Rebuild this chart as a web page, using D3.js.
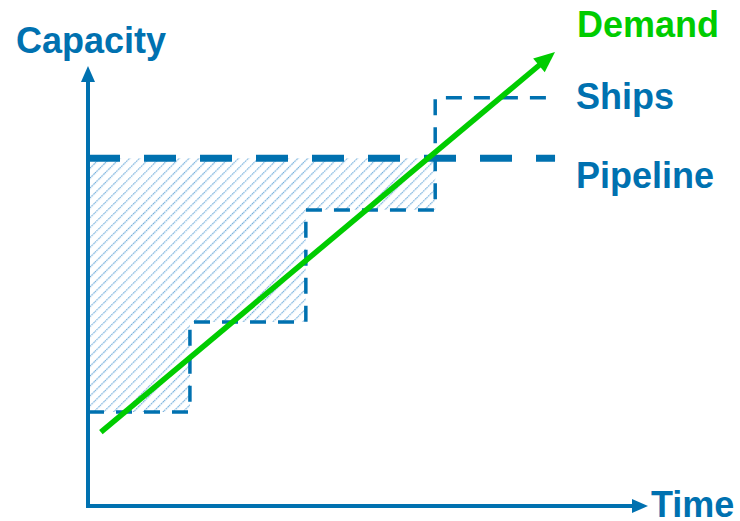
<!DOCTYPE html>
<html>
<head>
<meta charset="utf-8">
<script src="https://cdn.jsdelivr.net/npm/d3@7"></script>
<style>
  html, body { margin: 0; padding: 0; background: #fff; }
  svg { display: block; }
  text { font-family: "Liberation Sans", Arial, sans-serif; font-weight: bold; }
</style>
</head>
<body>
<svg id="chart" width="740" height="521"></svg>
<script>
// ---- data (abstract units) ----
const shipsSteps = [ // [start time, capacity level]
  [0.0, 2.09],
  [1.82, 4.09],
  [3.89, 6.58],
  [6.20, 9.07]
];
const shipsEnd = 8.34;
const pipelineLevel = 7.73;
const pipelineEnd = 8.34;
const demandPoints = [[0.23, 1.64], [8.34, 10.09]];
const hatchEnd = 6.20;
const axisMax = { x: 10.0, y: 9.78 };
const labels = { y: "Capacity", x: "Time", demand: "Demand", ships: "Ships", pipeline: "Pipeline" };

const blue = "#0071b0";
const green = "#00cc00";

const svg = d3.select("#chart");
const x = d3.scaleLinear().domain([0, 10]).range([88, 648]);
const y = d3.scaleLinear().domain([0, 10]).range([506, 56]);

const defs = svg.append("defs");
const pat = defs.append("pattern")
  .attr("id", "hatch").attr("patternUnits", "userSpaceOnUse")
  .attr("width", 7).attr("height", 7)
  .attr("patternTransform", "rotate(45)");
pat.append("line").attr("x1", 0).attr("y1", 0).attr("x2", 0).attr("y2", 7)
  .attr("stroke", "#6eabda").attr("stroke-width", 2.4).attr("stroke-dasharray", "1.6,0.8");

// hatched area between pipeline and ships
const hatchPts = [[0, pipelineLevel], [hatchEnd, pipelineLevel]];
for (let i = shipsSteps.length - 2; i >= 0; i--) {
  const nextX = shipsSteps[i + 1][0];
  hatchPts.push([nextX, shipsSteps[i][1]]);
  hatchPts.push([shipsSteps[i][0], shipsSteps[i][1]]);
}
svg.append("path")
  .attr("d", d3.line().x(d => x(d[0])).y(d => y(d[1]))(hatchPts) + "Z")
  .attr("fill", "url(#hatch)");

// ships step line
const shipPts = [];
shipsSteps.forEach((s, i) => {
  const nx = i < shipsSteps.length - 1 ? shipsSteps[i + 1][0] : shipsEnd;
  shipPts.push([s[0], s[1]]);
  shipPts.push([nx, s[1]]);
});
svg.append("path")
  .attr("d", d3.line().x(d => x(d[0])).y(d => y(d[1]))(shipPts))
  .attr("fill", "none").attr("stroke", blue).attr("stroke-width", 3.5)
  .attr("stroke-dasharray", "16,12");

// pipeline
svg.append("line")
  .attr("x1", x(0)).attr("x2", x(pipelineEnd))
  .attr("y1", y(pipelineLevel)).attr("y2", y(pipelineLevel))
  .attr("stroke", blue).attr("stroke-width", 7)
  .attr("stroke-dasharray", "32,24");

// axes
svg.append("line").attr("x1", x(0)).attr("x2", x(0))
  .attr("y1", y(0) + 2).attr("y2", y(axisMax.y) + 12)
  .attr("stroke", blue).attr("stroke-width", 4);
svg.append("path")
  .attr("d", `M${x(0)},${y(axisMax.y)} L${x(0) - 7},${y(axisMax.y) + 16} L${x(0) + 7},${y(axisMax.y) + 16}Z`)
  .attr("fill", blue);
svg.append("line").attr("x1", x(0) - 2).attr("x2", x(axisMax.x) - 12)
  .attr("y1", y(0)).attr("y2", y(0))
  .attr("stroke", blue).attr("stroke-width", 4);
svg.append("path")
  .attr("d", `M${x(axisMax.x)},${y(0)} L${x(axisMax.x) - 16},${y(0) - 7} L${x(axisMax.x) - 16},${y(0) + 7}Z`)
  .attr("fill", blue);

// demand arrow
const p0 = [x(demandPoints[0][0]), y(demandPoints[0][1])];
const p1 = [x(demandPoints[1][0]), y(demandPoints[1][1])];
const ang = Math.atan2(p1[1] - p0[1], p1[0] - p0[0]);
const hl = 21, hw = 9;
const bx = p1[0] - hl * Math.cos(ang), by = p1[1] - hl * Math.sin(ang);
svg.append("line").attr("x1", p0[0]).attr("y1", p0[1])
  .attr("x2", bx + 3 * Math.cos(ang)).attr("y2", by + 3 * Math.sin(ang))
  .attr("stroke", green).attr("stroke-width", 5.5);
svg.append("path")
  .attr("d", `M${p1[0]},${p1[1]} L${bx - hw * Math.sin(ang)},${by + hw * Math.cos(ang)} L${bx + hw * Math.sin(ang)},${by - hw * Math.cos(ang)}Z`)
  .attr("fill", green);

// labels
const fs = 36;
svg.append("text").attr("x", 16).attr("y", 53).attr("font-size", fs).attr("fill", blue).text(labels.y);
svg.append("text").attr("x", 651).attr("y", 517).attr("font-size", fs).attr("fill", blue).text(labels.x);
svg.append("text").attr("x", 577).attr("y", 37).attr("font-size", fs).attr("fill", green).text(labels.demand);
svg.append("text").attr("x", 576).attr("y", 109).attr("font-size", fs).attr("fill", blue).text(labels.ships);
svg.append("text").attr("x", 576).attr("y", 188).attr("font-size", fs).attr("fill", blue).text(labels.pipeline);
</script>
</body>
</html>
